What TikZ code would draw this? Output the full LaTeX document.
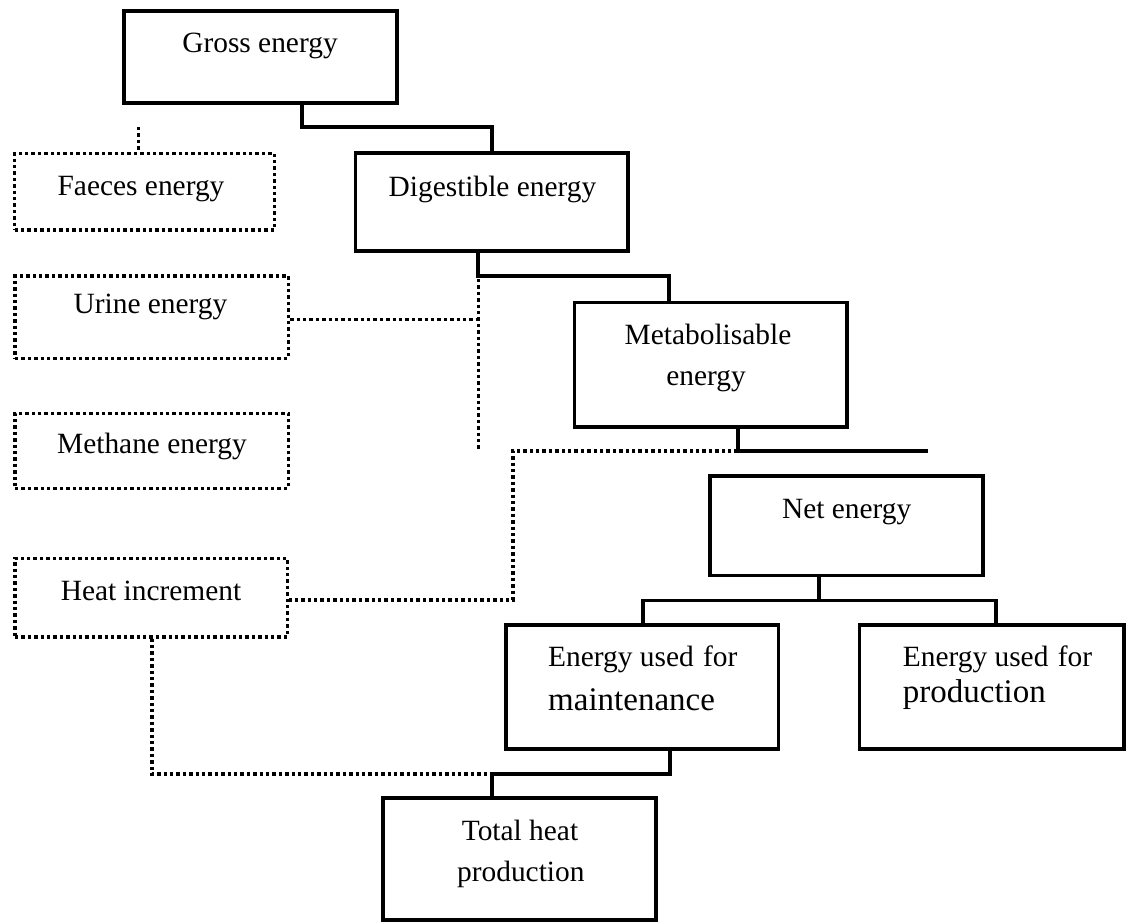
\documentclass[tikz,border=0pt]{standalone}
\usepackage{fontspec}
\setmainfont{Liberation Serif}
\begin{document}
\begin{tikzpicture}[x=1pt,y=-1pt,
  box/.style={draw, line width=3.8pt, rectangle, inner sep=0pt},
  dbox/.style={draw, line width=3.6pt, dash pattern=on 3.4pt off 3pt, rectangle, inner sep=0pt},
  conn/.style={line width=3.8pt},
  dconn/.style={line width=3.6pt, dash pattern=on 3.4pt off 3pt},
  txt/.style={inner sep=0pt, anchor=base, font=\fontsize{29.4}{35}\selectfont},
  bigtxt/.style={txt, font=\fontsize{33}{40}\selectfont}]

\useasboundingbox (0,0) rectangle (1126,922);

% boxes
\node[box,  minimum width=272.7pt, minimum height=92pt]    (gross)   at (260.4,56.7) {};
\node[dbox, minimum width=259.8pt, minimum height=76.7pt]  (faeces)  at (144.4,191.7) {};
\node[box,  minimum width=272.8pt, minimum height=98.5pt]  (digest)  at (491.9,202) {};
\node[dbox, minimum width=273.3pt, minimum height=82.3pt]  (urine)   at (151.7,317.2) {};
\node[dbox, minimum width=273.3pt, minimum height=75pt]    (methane) at (151.7,450.8) {};
\node[box,  minimum width=272.2pt, minimum height=124.2pt] (metab)   at (710.6,364.6) {};
\node[dbox, minimum width=272.5pt, minimum height=78.4pt]  (heat)    at (151.2,597.5) {};
\node[box,  minimum width=273.3pt, minimum height=99.5pt]  (net)     at (846.7,525.7) {};
\node[box,  minimum width=272.5pt, minimum height=123.8pt] (maint)   at (642.2,686.9) {};
\node[box,  minimum width=264.5pt, minimum height=123.8pt] (prod)    at (991.7,686.9) {};
\node[box,  minimum width=272.7pt, minimum height=121.7pt] (total)   at (519.7,859.2) {};

% texts
\node[txt] (grossT)   at (260,52)    {Gross energy};
\node[txt] (faecesT)  at (141,195)   {Faeces energy};
\node[txt] (digestT)  at (492.5,196.7) {Digestible energy};
\node[txt] (urineT)   at (150.5,313.3) {Urine energy};
\node[txt] (methaneT) at (152,453)   {Methane energy};
\node[txt] (metabT1)  at (708,344.3) {Metabolisable};
\node[txt] (metabT2)  at (706,385)   {energy};
\node[txt] (heatT)    at (151,600)   {Heat increment};
\node[txt] (netT)     at (846.7,518.3) {Net energy};
\node[txt, anchor=base west]    (maintT1) at (548,666.5)  {Energy used\hspace{2pt} for};
\node[bigtxt, anchor=base west] (maintT2) at (548,710)    {maintenance};
\node[txt, anchor=base west]    (prodT1)  at (902.7,666.7) {Energy used\hspace{2pt} for};
\node[bigtxt, anchor=base west] (prodT2)  at (902.7,702)  {production};
\node[txt] (totalT1)  at (520,840)   {Total heat};
\node[txt] (totalT2)  at (520.8,881.7) {production};

% solid connectors
\coordinate (g1) at (301.7,127.3);
\draw[conn] (g1 |- gross.south) -- (g1) -| (digest.north);

\coordinate (d1) at (478.3,276);
\coordinate (d2) at (669.3,276);
\draw[conn] (d1 |- digest.south) -- (d1) -- (d2) -- (d2 |- metab.north);

\coordinate (m1) at (737.7,450.7);
\coordinate (m2) at (928.3,450.7);
\draw[conn] (m1 |- metab.south) -- (m1) -- (m2);

\coordinate (n1) at (819.3,600.5);
\coordinate (n2) at (643.3,600.5);
\coordinate (n3) at (995.7,600.5);
\draw[conn] (n1 |- net.south) -- (n1);
\draw[conn] (n2 |- maint.north) -- (n2) -- (n3) -- (n3 |- prod.north);

\coordinate (t1) at (670,774);
\coordinate (t2) at (492.3,774);
\draw[conn] (t1 |- maint.south) -- (t1) -- (t2) -- (t2 |- total.north);

% dotted connectors
\coordinate (f1) at (138.3,127);
\draw[dconn] (f1) -- (f1 |- faeces.north);

\coordinate (d3) at (478.3,279);
\coordinate (u1) at (478.3,450);
\draw[dconn] (d3) -- (u1);
\coordinate (u2) at (478.3,319.3);
\draw[dconn] (u2 -| urine.east) -- (u2);

\coordinate (h1) at (512.7,450.7);
\coordinate (h2) at (512.7,600);
\draw[dconn] (m1) -- (h1) -- (h2) -- (h2 -| heat.east);

\coordinate (h3) at (151.8,774);
\draw[dconn] (h3 |- heat.south) -- (h3) -- (t2);
\end{tikzpicture}
\end{document}
